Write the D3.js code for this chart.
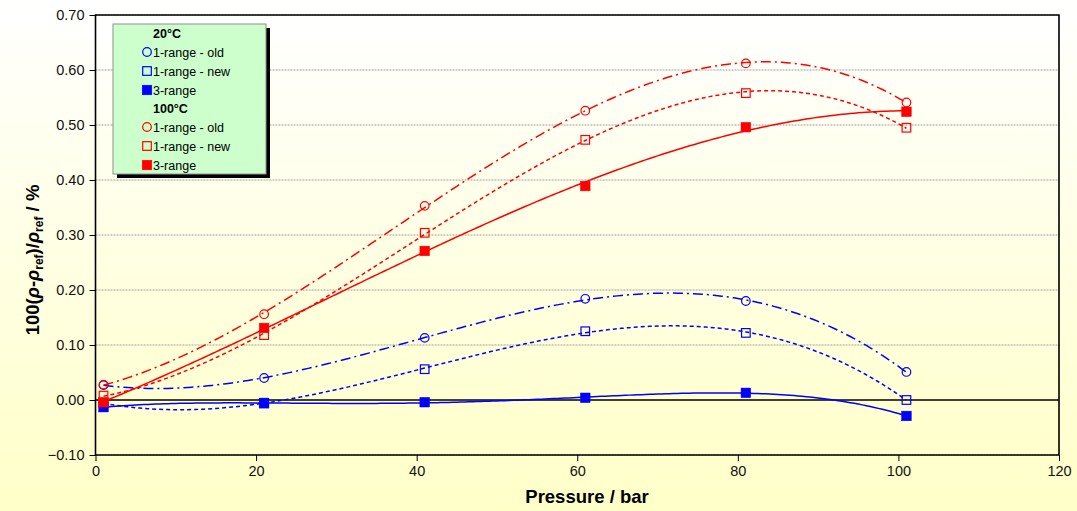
<!DOCTYPE html>
<html><head><meta charset="utf-8">
<script src="https://cdn.jsdelivr.net/npm/d3@7"></script>
<style>body{margin:0;padding:0;overflow:hidden;} svg{display:block;font-family:Arial,"Liberation Sans",sans-serif;}</style>
</head><body>
<svg id="chart" width="1077" height="511"></svg>
<script>
// ---- data ----
const pressures = [1, 21, 41, 61, 81, 101];
const blueOld  = [0.027, 0.040, 0.113, 0.184, 0.180, 0.051];
const blueNew  = [-0.006, -0.005, 0.056, 0.125, 0.122, 0.000];
const blue3    = [-0.013, -0.006, -0.004, 0.004, 0.013, -0.029];
const redOld   = [0.028, 0.156, 0.353, 0.526, 0.612, 0.541];
const redNew   = [0.008, 0.118, 0.304, 0.473, 0.558, 0.495];
const red3     = [-0.004, 0.131, 0.271, 0.389, 0.496, 0.524];
const xTicks = [0, 20, 40, 60, 80, 100, 120];
const yTicks = [-0.10, 0.00, 0.10, 0.20, 0.30, 0.40, 0.50, 0.60, 0.70];
const legendGroups = ["20°C", "100°C"];
const legendLabels = ["1-range - old", "1-range - new", "3-range"];

const series = [
  {vals: blueOld, color: "#0000FF", marker: "circle", dash: "10,4,2,4", order: 3},
  {vals: blueNew, color: "#0000FF", marker: "osquare", dash: "4,3", order: 3},
  {vals: blue3,   color: "#0000FF", marker: "fsquare", dash: null, order: 4},
  {vals: redOld,  color: "#FF0000", marker: "circle", dash: "10,4,2,4", order: 3},
  {vals: redNew,  color: "#FF0000", marker: "osquare", dash: "4,3", order: 3},
  {vals: red3,    color: "#FF0000", marker: "fsquare", dash: null, order: 3}
];

// polynomial least-squares trendline
function polyfit(xs, ys, order) {
  const n = order + 1;
  const tx = xs.map(x => (x - 51) / 50);
  const A = Array.from({length: n}, () => new Array(n + 1).fill(0));
  for (let i = 0; i < xs.length; i++) {
    for (let r = 0; r < n; r++) {
      for (let c = 0; c < n; c++) A[r][c] += Math.pow(tx[i], r + c);
      A[r][n] += ys[i] * Math.pow(tx[i], r);
    }
  }
  for (let p = 0; p < n; p++) {
    let m = p;
    for (let r = p + 1; r < n; r++) if (Math.abs(A[r][p]) > Math.abs(A[m][p])) m = r;
    [A[p], A[m]] = [A[m], A[p]];
    for (let r = 0; r < n; r++) {
      if (r === p) continue;
      const f = A[r][p] / A[p][p];
      for (let c = p; c <= n; c++) A[r][c] -= f * A[p][c];
    }
  }
  const coef = A.map((row, i) => row[n] / row[i]);
  return x => { const t = (x - 51) / 50; let s = 0; for (let k = n - 1; k >= 0; k--) s = s * t + coef[k]; return s; };
}

const svg = d3.select("#chart");
const W = 1077, H = 511;
const m = {left: 95.5, right: 1059, top: 15, bottom: 455};

const defs = svg.append("defs");
const bg = defs.append("linearGradient").attr("id", "bg").attr("x1", 0).attr("y1", 0).attr("x2", 0).attr("y2", 1);
bg.append("stop").attr("offset", "0%").attr("stop-color", "#FFFFFF");
bg.append("stop").attr("offset", "100%").attr("stop-color", "#FFFFC8");
const pg = defs.append("linearGradient").attr("id", "pg").attr("x1", 0).attr("y1", 0).attr("x2", 0).attr("y2", 1);
pg.append("stop").attr("offset", "0%").attr("stop-color", "#FFFFFF");
pg.append("stop").attr("offset", "100%").attr("stop-color", "#FFFFCC");

svg.append("rect").attr("width", W).attr("height", H).attr("fill", "url(#bg)");

const x = d3.scaleLinear().domain([0, 120]).range([m.left, m.right]);
const y = d3.scaleLinear().domain([-0.1, 0.7]).range([m.bottom, m.top]);

svg.append("rect").attr("x", m.left).attr("y", m.top).attr("width", m.right - m.left).attr("height", m.bottom - m.top).attr("fill", "url(#pg)");

// gridlines
svg.append("g").selectAll("line").data(yTicks.filter(v => Math.abs(v) > 1e-9)).join("line")
  .attr("x1", m.left).attr("x2", m.right).attr("y1", d => y(d)).attr("y2", d => y(d))
  .attr("stroke", "#A0A0A0").attr("stroke-width", 1).attr("stroke-dasharray", "2,1");

// zero line
svg.append("line").attr("x1", m.left).attr("x2", m.right).attr("y1", y(0)).attr("y2", y(0))
  .attr("stroke", "#000").attr("stroke-width", 1.5);

// clip for trendlines
defs.append("clipPath").attr("id", "clip").append("rect").attr("x", m.left).attr("y", m.top).attr("width", m.right - m.left).attr("height", m.bottom - m.top);

const lineG = svg.append("g").attr("clip-path", "url(#clip)");
series.forEach(s => {
  const f = polyfit(pressures, s.vals, s.order);
  const pts = d3.range(1, 101.01, 0.5).map(p => [p, f(p)]);
  lineG.append("path").datum(pts)
    .attr("d", d3.line().x(d => x(d[0])).y(d => y(d[1])))
    .attr("fill", "none").attr("stroke", s.color).attr("stroke-width", 1.5)
    .attr("stroke-dasharray", s.dash);
});

function drawMarker(g, type, color, cx, cy) {
  if (type === "circle") {
    g.append("circle").attr("cx", cx).attr("cy", cy).attr("r", 4.3).attr("fill", "none").attr("stroke", color).attr("stroke-width", 1.2);
  } else if (type === "osquare") {
    g.append("rect").attr("x", cx - 4.3).attr("y", cy - 4.3).attr("width", 8.6).attr("height", 8.6).attr("fill", "none").attr("stroke", color).attr("stroke-width", 1.2);
  } else {
    g.append("rect").attr("x", cx - 4.8).attr("y", cy - 4.8).attr("width", 9.6).attr("height", 9.6).attr("fill", color).attr("stroke", color).attr("stroke-width", 0.5);
  }
}
const markG = svg.append("g");
series.forEach(s => {
  s.vals.forEach((v, i) => drawMarker(markG, s.marker, s.color, x(pressures[i]), y(v)));
});

// axes box
svg.append("path").attr("d", `M${m.left},${m.top}H${m.right}V${m.bottom}H${m.left}Z`).attr("fill", "none").attr("stroke", "#000").attr("stroke-width", 1.6);

const yAxis = svg.append("g").attr("transform", `translate(${m.left},0)`)
  .call(d3.axisLeft(y).tickValues(yTicks).tickFormat(d3.format(".2f")).tickSize(6).tickSizeOuter(0));
yAxis.select(".domain").remove();
yAxis.selectAll("line").attr("stroke", "#000");
yAxis.selectAll("text").attr("font-size", 14.5).attr("fill", "#111").attr("x", -11).attr("font-family", "Arial, 'Liberation Sans', sans-serif");

const xAxis = svg.append("g").attr("transform", `translate(0,${m.bottom})`)
  .call(d3.axisBottom(x).tickValues(xTicks).tickFormat(d3.format("d")).tickSize(6).tickSizeOuter(0));
xAxis.select(".domain").remove();
xAxis.selectAll("line").attr("stroke", "#000");
xAxis.selectAll("text").attr("font-size", 14.5).attr("fill", "#111").attr("y", 11).attr("font-family", "Arial, 'Liberation Sans', sans-serif");

// axis titles
svg.append("text").attr("x", 587).attr("y", 503).attr("text-anchor", "middle")
  .attr("font-size", 18.5).attr("font-weight", "bold").text("Pressure / bar");

const yt = svg.append("text").attr("transform", "translate(39,260) rotate(-90)").attr("text-anchor", "middle")
  .attr("font-size", 18.5).attr("font-weight", "bold");
yt.append("tspan").text("100(");
yt.append("tspan").attr("font-style", "italic").text("ρ");
yt.append("tspan").text("-");
yt.append("tspan").attr("font-style", "italic").text("ρ");
yt.append("tspan").attr("font-size", 12).attr("dy", 4).text("ref");
yt.append("tspan").attr("dy", -4).text(")/");
yt.append("tspan").attr("font-style", "italic").text("ρ");
yt.append("tspan").attr("font-size", 12).attr("dy", 4).text("ref");
yt.append("tspan").attr("dy", -4).text(" / %");

// legend
const lg = svg.append("g");
const lx = 113, ly = 24, lw = 153, lh = 150;
lg.append("rect").attr("x", lx + 4).attr("y", ly + 4).attr("width", lw).attr("height", lh).attr("fill", "#000");
lg.append("rect").attr("x", lx).attr("y", ly).attr("width", lw).attr("height", lh).attr("fill", "#CCFFCC").attr("stroke", "#909090").attr("stroke-width", 1);
const rowsY = [33, 52, 71, 90, 108, 127, 146, 165];
let r = 0;
legendGroups.forEach((gname, gi) => {
  lg.append("text").attr("x", 153).attr("y", rowsY[r] + 4.5).attr("font-size", 12.5).attr("font-weight", "bold").text(gname);
  r++;
  legendLabels.forEach((lab, li) => {
    const s = series[gi * 3 + li];
    drawMarker(lg, s.marker, s.color, 147, rowsY[r]);
    lg.append("text").attr("x", 153).attr("y", rowsY[r] + 4.5).attr("font-size", 12.5).text(lab);
    r++;
  });
});
</script>
</body></html>
